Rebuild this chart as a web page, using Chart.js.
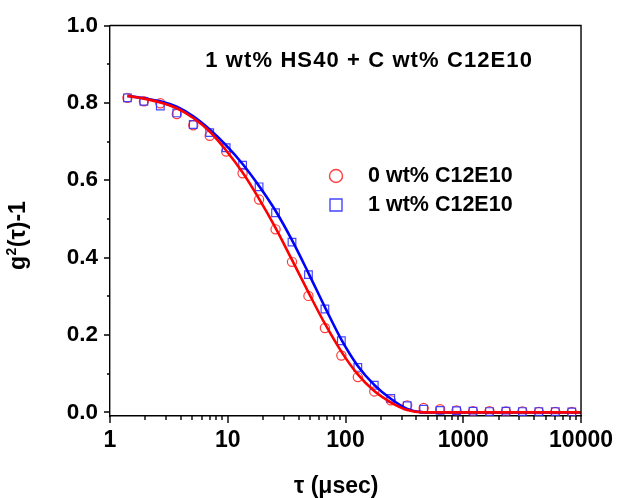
<!DOCTYPE html>
<html><head><meta charset="utf-8">
<script src="https://cdn.jsdelivr.net/npm/chart.js@4.4.0/dist/chart.umd.min.js"></script>
<style>html,body{margin:0;padding:0;background:#fff;}#wrap{width:624px;height:498px;position:relative;}</style>
</head><body><div id="wrap"><canvas id="c" width="624" height="498"></canvas></div>
<script>
// ---- data ----
const tau = [1.406,1.940,2.676,3.692,5.094,7.027,9.695,13.37,18.45,25.46,35.12,48.45,66.84,92.21,127.2,175.5,242.2,334.1,460.9,635.9,877.2,1210,1670,2304,3178,4384,6049,8345];
const g2_0wt = [0.813,0.804,0.799,0.771,0.742,0.715,0.674,0.618,0.550,0.473,0.389,0.301,0.218,0.147,0.091,0.054,0.031,0.018,0.011,0.008,0.005,0.003,0.003,0.002,0.002,0.001,0.001,0.001];
const g2_1wt = [0.813,0.804,0.792,0.774,0.744,0.723,0.684,0.639,0.583,0.516,0.440,0.356,0.267,0.185,0.116,0.070,0.036,0.017,0.008,0.005,0.004,0.003,0.002,0.003,0.002,0.002,0.002,0.001];
const fitTau = [1.406,1.940,2.676,3.692,5.094,7.027,9.695,13.37,18.45,25.46,35.12,48.45,66.84,92.21,127.2,175.5,242.2,334.1,460.9,635.9,877.2,1210,1670,2304,3178,4384,6049,8345,10000];
const fit_0wt = [0.818,0.811,0.801,0.786,0.761,0.726,0.677,0.620,0.552,0.477,0.394,0.310,0.229,0.157,0.098,0.055,0.026,0.006,0,0,0,0,0,0,0,0,0,0,0];
const fit_1wt = [0.818,0.812,0.804,0.790,0.765,0.731,0.690,0.642,0.585,0.521,0.445,0.360,0.272,0.188,0.120,0.071,0.035,0.009,0,0,0,0,0,0,0,0,0,0,0];
const seriesNames = ['0 wt% C12E10','1 wt% C12E10'];
const chartTitle = '1 wt% HS40 + C wt% C12E10';
const xTitle = 'τ (μsec)';
const yTitleParts = ['g','2','(τ)-1'];
const xMajorTicks = [1,10,100,1000,10000];
const xMinorTicks = [2,3,4,5,6,7,8,9,20,30,40,50,60,70,80,90,200,300,400,500,600,700,800,900,2000,3000,4000,5000,6000,7000,8000,9000];
const yMajorTicks = [0,0.2,0.4,0.6,0.8,1.0];
const yMinorTicks = [0.1,0.3,0.5,0.7,0.9];

const RED = '#ff0000', BLUE = '#0000ff';
const RED_M = 'rgba(255,40,40,0.9)', BLUE_M = 'rgba(50,50,255,0.9)';
const FONT = '"Liberation Sans", Arial, sans-serif';

const pts = (xs, ys) => xs.map((x, i) => ({x: x, y: ys[i]}));

const decor = {
  id: 'decor',
  afterDraw(chart) {
    const ctx = chart.ctx, a = chart.chartArea;
    const xs = chart.scales.x, ys = chart.scales.y;
    ctx.save();
    ctx.strokeStyle = '#000';
    ctx.lineWidth = 1.4;
    // top & right frame
    ctx.beginPath();
    ctx.moveTo(a.left, a.top); ctx.lineTo(a.right, a.top); ctx.lineTo(a.right, a.bottom);
    ctx.stroke();
    // x ticks (outward)
    ctx.beginPath();
    xMajorTicks.forEach(v => { const p = Math.round(xs.getPixelForValue(v)); ctx.moveTo(p, a.bottom); ctx.lineTo(p, a.bottom + 7); });
    xMinorTicks.forEach(v => { const p = Math.round(xs.getPixelForValue(v)); ctx.moveTo(p, a.bottom); ctx.lineTo(p, a.bottom + 4); });
    // y ticks (outward)
    yMajorTicks.forEach(v => { const p = Math.round(ys.getPixelForValue(v)); ctx.moveTo(a.left, p); ctx.lineTo(a.left - 6, p); });
    yMinorTicks.forEach(v => { const p = Math.round(ys.getPixelForValue(v)); ctx.moveTo(a.left, p); ctx.lineTo(a.left - 3, p); });
    ctx.stroke();

    ctx.fillStyle = '#000';
    // inner title (right end fixed, slightly wider tracking)
    ctx.save();
    ctx.font = 'bold 22px ' + FONT;
    if ('letterSpacing' in ctx) ctx.letterSpacing = '1.1px';
    ctx.textBaseline = 'alphabetic';
    ctx.textAlign = 'right';
    ctx.fillText(chartTitle, 533, 67);
    ctx.restore();

    // legend (markers of the two measured series only)
    const ds = chart.data.datasets;
    const legendY = [176, 205];
    [0, 1].forEach(i => {
      const d = ds[i];
      ctx.strokeStyle = d.borderColor; ctx.lineWidth = 1.4;
      ctx.beginPath();
      if (i === 0) { ctx.arc(336, legendY[i], 6.5, 0, Math.PI * 2); }
      else { ctx.rect(330, legendY[i] - 6, 12, 12); }
      ctx.stroke();
      ctx.fillStyle = '#000';
      ctx.font = 'bold 21.5px ' + FONT;
      ctx.textAlign = 'left';
      ctx.textBaseline = 'middle';
      ctx.fillText(seriesNames[i], 368, legendY[i] + 0.5);
    });

    // x axis title
    ctx.font = 'bold 23px ' + FONT;
    ctx.textBaseline = 'alphabetic';
    ctx.textAlign = 'left';
    ctx.fillText(xTitle, 294, 493);

    // y axis title (rotated)
    ctx.translate(25, 270);
    ctx.rotate(-Math.PI / 2);
    ctx.textAlign = 'left';
    ctx.font = 'bold 23px ' + FONT;
    let x = 0;
    ctx.fillText(yTitleParts[0], x, 0); x += ctx.measureText(yTitleParts[0]).width;
    ctx.font = 'bold 14px ' + FONT;
    ctx.fillText(yTitleParts[1], x + 0.5, -9); x += ctx.measureText(yTitleParts[1]).width + 1;
    ctx.font = 'bold 23px ' + FONT;
    ctx.fillText(yTitleParts[2], x, 0);
    ctx.restore();
  }
};

new Chart(document.getElementById('c'), {
  type: 'scatter',
  data: {
    datasets: [
      {label: seriesNames[0], data: pts(tau, g2_0wt), pointStyle: 'circle', pointRadius: 4.6, borderColor: RED_M, backgroundColor: 'rgba(0,0,0,0)', pointBorderWidth: 1.2, showLine: false, order: 3},
      {label: seriesNames[1], data: pts(tau, g2_1wt), pointStyle: 'rect', pointRadius: 5.4, borderColor: BLUE_M, backgroundColor: 'rgba(0,0,0,0)', pointBorderWidth: 1.2, showLine: false, order: 2},
      {label: 'fit 1 wt%', data: pts(fitTau, fit_1wt), showLine: true, pointRadius: 0, borderColor: BLUE, borderWidth: 2.6, cubicInterpolationMode: 'monotone', fill: false, order: 1},
      {label: 'fit 0 wt%', data: pts(fitTau, fit_0wt), showLine: true, pointRadius: 0, borderColor: RED, borderWidth: 2.6, cubicInterpolationMode: 'monotone', fill: false, order: 0}
    ]
  },
  options: {
    responsive: false,
    devicePixelRatio: 1,
    animation: false,
    layout: {padding: {top: 17, right: 36, left: 0, bottom: 0}},
    plugins: {legend: {display: false}, tooltip: {enabled: false}, title: {display: false}},
    scales: {
      x: {
        type: 'logarithmic', min: 1, max: 10000,
        grid: {display: false, drawTicks: false},
        border: {display: true, color: '#000', width: 1.4},
        afterBuildTicks: s => { s.ticks = xMajorTicks.map(v => ({value: v})); },
        afterFit: s => { s.height = 82; },
        ticks: {autoSkip: false, maxRotation: 0, color: '#000', padding: 11,
          font: {family: FONT, size: 23, weight: 'bold'},
          callback: v => String(v)}
      },
      y: {
        min: -0.0095, max: 1.0,
        grid: {display: false, drawTicks: false},
        border: {display: true, color: '#000', width: 1.4},
        afterBuildTicks: s => { s.ticks = yMajorTicks.map(v => ({value: v})); },
        afterFit: s => { s.width = 110; },
        ticks: {color: '#000', padding: 12,
          font: {family: FONT, size: 22.5, weight: 'bold'},
          callback: v => Number(v).toFixed(1)}
      }
    }
  },
  plugins: [decor]
});
</script>
</body></html>
